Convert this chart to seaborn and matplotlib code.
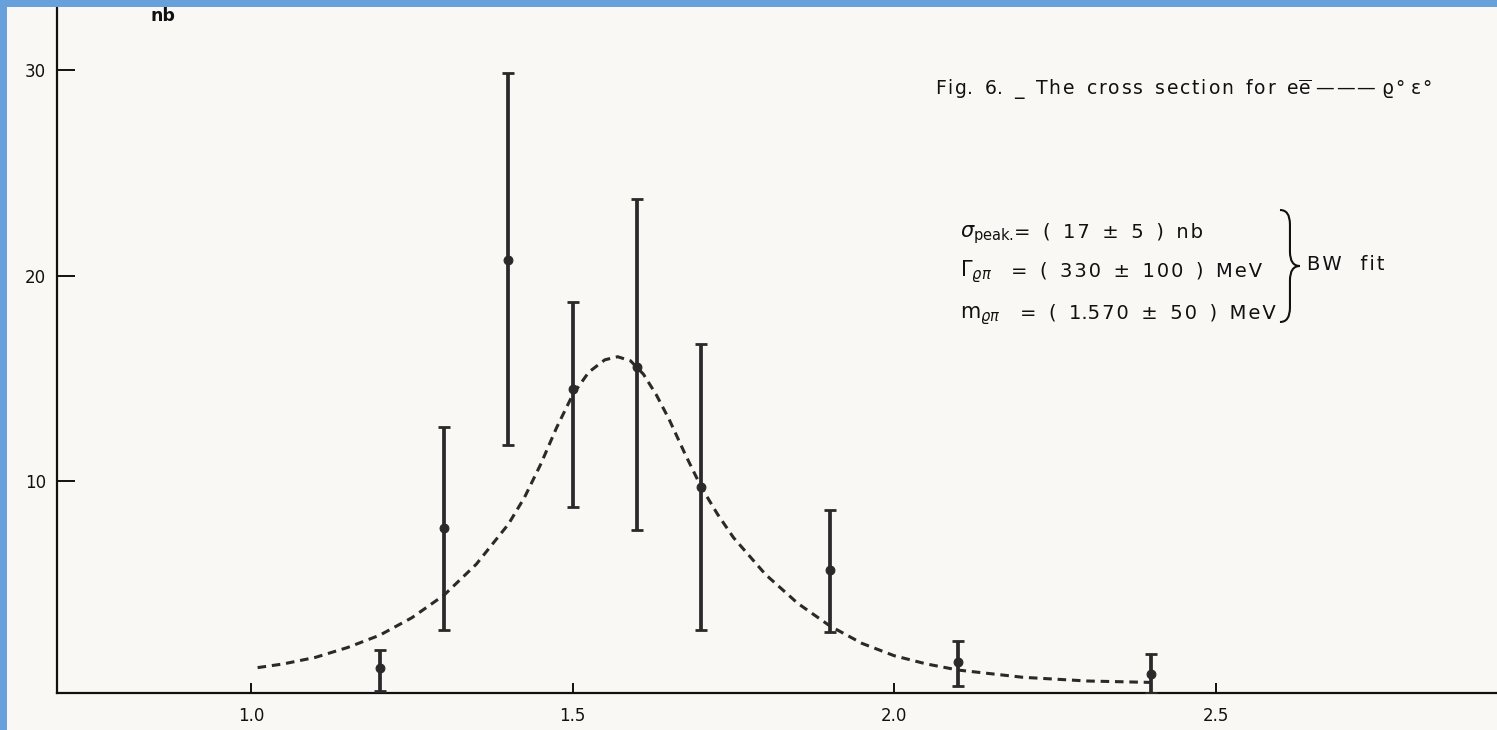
import numpy as np
import matplotlib
matplotlib.use("Agg")
import matplotlib.pyplot as plt
from matplotlib.path import Path
from matplotlib.patches import PathPatch, Rectangle
import seaborn as sns

# ---- data ----
energy = [1.2, 1.3, 1.4, 1.5, 1.6, 1.7, 1.9, 2.1, 2.4]
sigma = [0.9, 7.7, 20.75, 14.5, 15.55, 9.7, 5.65, 1.2, 0.6]
err_hi = [1.8, 12.65, 29.85, 18.7, 23.75, 16.65, 8.6, 2.2, 1.6]
err_lo = [-0.2, 2.75, 11.75, 8.75, 7.6, 2.75, 2.65, 0.05, -0.3]

fit_x = [1.01, 1.05, 1.1, 1.15, 1.2, 1.25, 1.3, 1.35, 1.4, 1.425, 1.45, 1.475,
         1.5, 1.525, 1.55, 1.57, 1.59, 1.61, 1.63, 1.65, 1.675, 1.7, 1.725,
         1.75, 1.8, 1.85, 1.9, 1.95, 2.0, 2.05, 2.1, 2.2, 2.3, 2.4]
fit_y = [0.92, 1.1, 1.42, 1.9, 2.5, 3.35, 4.45, 5.95, 7.9, 9.2, 10.8, 12.6,
         14.2, 15.3, 15.9, 16.05, 15.85, 15.2, 14.2, 13.0, 11.3, 9.7, 8.4,
         7.25, 5.45, 4.05, 2.95, 2.1, 1.5, 1.1, 0.8, 0.45, 0.27, 0.2]

xticks = [1.0, 1.5, 2.0, 2.5]
xticklabels = ["1.0", "1.5", "2.0", "2.5"]
yticks = [10, 20, 30]
yticklabels = ["10", "20", "30"]

title_a = "Fig. 6. _ The cross section for e"
title_math = "$\\overline{\\mathrm{e}}$"
title_b = " ——— ϱ° ε°"
fit_sym = ["$\\sigma_{\\mathrm{peak.}}$", "$\\Gamma_{\\varrho\\pi}$", "m$_{\\varrho\\pi}$"]
fit_val = ["= ( 17 ± 5 ) nb", "= ( 330 ± 100 ) MeV", "= ( 1.570 ± 50 ) MeV"]
fit_label = "BW   fit"
y_unit = "nb"


def spaced(s):
    """letter-spaced text (the typewritten original is widely spaced)"""
    out = ""
    for i, c in enumerate(s):
        out += c
        if i < len(s) - 1:
            nxt = s[i + 1]
            if c != " " and nxt != " " and c != "." and nxt != ".":
                out += "\u200a"
    return out


# ---- style ----
sns.set_style("ticks")
plt.rcParams['font.family'] = ['DejaVu Sans']

paper = "#f9f8f4"
ink = "#2a2a2a"
fig = plt.figure(figsize=(14.97, 7.30), dpi=100, facecolor=paper)
ax = fig.add_axes([57 / 1497, 37.3 / 730, 1 - 57 / 1497, 692.7 / 730])
ax.set_facecolor(paper)

ax.set_xlim(0.698, 2.9375)
ax.set_ylim(-0.30, 33.41)

# fit curve
sns.lineplot(x=fit_x, y=fit_y, ax=ax, color=ink, linewidth=2.2, sort=False,
             errorbar=None, linestyle=(0, (2.8, 1.9)))

# error bars
s = np.array(sigma)
ax.errorbar(energy, sigma, yerr=[s - np.array(err_lo), np.array(err_hi) - s],
            fmt='none', ecolor=ink, elinewidth=2.7, capsize=4.3, capthick=2.0,
            zorder=3)
sns.scatterplot(x=energy, y=sigma, ax=ax, color=ink, s=40, marker='o',
                edgecolor=ink, linewidth=0.8, zorder=4)

# axes styling
for side in ("top", "right"):
    ax.spines[side].set_visible(False)
for side in ("left", "bottom"):
    ax.spines[side].set_color("#111111")
    ax.spines[side].set_linewidth(1.6)

ax.set_xticks(xticks)
ax.set_xticklabels(xticklabels)
ax.set_yticks(yticks)
ax.set_yticklabels(yticklabels)
ax.tick_params(axis='x', direction='in', length=7, width=1.4, pad=10,
               labelsize=12, colors="#111111")
ax.tick_params(axis='y', direction='in', length=13, width=1.4, pad=8,
               labelsize=12, colors="#111111")
ax.set_xlabel("")
ax.set_ylabel("")

# texts
ax.text(0.862, 32.63, y_unit, fontsize=12.5, ha='center', va='center',
        color="#111111", fontweight='bold')
title = spaced(title_a).replace(" ", "  ") + title_math + spaced(title_b)
ax.text(2.0636, 29.03, title, fontsize=13.5, ha='left', va='center',
        color="#111111")
for yb, sym in zip([21.87, 19.97, 17.93], fit_sym):
    ax.text(2.1025, yb, sym, fontsize=15, ha='left', va='baseline',
            color="#111111")
for xl, yb, val in zip([2.1865, 2.1810, 2.1950], [21.87, 19.97, 17.93], fit_val):
    ax.text(xl, yb, spaced(val).replace(" ", "  "), fontsize=14, ha='left',
            va='baseline', color="#111111")
ax.text(2.642, 20.27, spaced(fit_label), fontsize=14, ha='left', va='baseline',
        color="#111111")

# curly brace
x0, x1 = 2.600, 2.631
xm = (x0 + x1) / 2
ytop, ybot = 23.19, 17.74
ymid = (ytop + ybot) / 2
d = 0.7
verts = [(x0, ytop), (xm, ytop), (xm, ytop - d),
         (xm, ymid + d),
         (xm, ymid), (x1, ymid),
         (xm, ymid), (xm, ymid - d),
         (xm, ybot + d),
         (xm, ybot), (x0, ybot)]
codes = [Path.MOVETO, Path.CURVE3, Path.CURVE3,
         Path.LINETO,
         Path.CURVE3, Path.CURVE3,
         Path.CURVE3, Path.CURVE3,
         Path.LINETO,
         Path.CURVE3, Path.CURVE3]
ax.add_patch(PathPatch(Path(verts, codes), facecolor='none', edgecolor="#111111",
                       linewidth=1.5))

# blue frame strips (scan border)
blue = "#68a0dc"
fig.patches.append(Rectangle((0, 0), 7.3 / 1497, 1, transform=fig.transFigure,
                             facecolor=blue, edgecolor='none', zorder=10))
fig.patches.append(Rectangle((0, 1 - 6.7 / 730), 1, 6.7 / 730, transform=fig.transFigure,
                             facecolor=blue, edgecolor='none', zorder=10))

fig.savefig("out.png", dpi=100, facecolor=paper)
